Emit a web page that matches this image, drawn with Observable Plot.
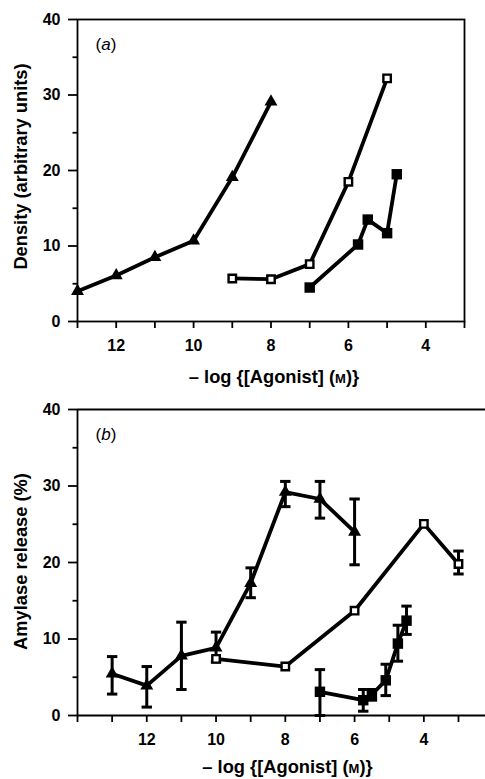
<!DOCTYPE html>
<html><head><meta charset="utf-8">
<script src="https://cdn.jsdelivr.net/npm/d3@7"></script>
<script src="https://cdn.jsdelivr.net/npm/@observablehq/plot@0.6"></script>
<style>body{margin:0;background:#fff;} svg{display:block}</style>
</head><body><div id="fig"></div>
<script>
// ---- text ----
const xTitle = "– log {[Agonist] (M)}";
const yTitleA = "Density (arbitrary units)";
const yTitleB = "Amylase release (%)";
const panelLabelA = "(a)";
const panelLabelB = "(b)";

// ---- ticks ----
const yMajor = [0, 10, 20, 30, 40];
const yMinor = [5, 15, 25, 35];
const xTicksA = [13, 12, 11, 10, 9, 8, 7, 6, 5, 4, 3];
const xTicksB = [14, 13, 12, 11, 10, 9, 8, 7, 6, 5, 4, 3];
const xLabelled = [12, 10, 8, 6, 4];

// ---- panel (a): density ----
const triA_x = [13, 12, 11, 10, 9, 8];
const triA_y = [4.0, 6.1, 8.5, 10.7, 19.1, 29.1];
const openA_x = [9, 8, 7, 6, 5];
const openA_y = [5.7, 5.6, 7.6, 18.5, 32.2];
const fillA_x = [7, 5.75, 5.5, 5, 4.75];
const fillA_y = [4.5, 10.2, 13.5, 11.7, 19.5];

// ---- panel (b): amylase release ----
const triB_x = [13, 12, 11, 10, 9, 8, 7, 6];
const triB_y = [5.45, 3.9, 7.8, 8.85, 17.3, 29.2, 28.3, 24.0];
const triB_lo = [2.8, 1.1, 3.4, 7.0, 15.4, 27.3, 25.8, 19.7];
const triB_hi = [7.7, 6.4, 12.2, 10.9, 19.3, 30.6, 30.6, 28.3];
const openB_x = [10, 8, 6, 4, 3];
const openB_y = [7.4, 6.4, 13.7, 25.05, 19.8];
const openB_lo = [null, null, null, null, 18.5];
const openB_hi = [null, null, null, null, 21.5];
const fillB_x = [7, 5.75, 5.5, 5.1, 4.75, 4.5];
const fillB_y = [3.1, 2.0, 2.75, 4.6, 9.4, 12.4];
const fillB_lo = [0, 0.56, 2.0, 2.6, 7.1, 10.6];
const fillB_hi = [6.0, 3.4, 3.4, 6.7, 11.8, 14.3];

const zip = (xs, ys, lo, hi) => xs.map((x, i) => ({x, y: ys[i], lo: lo ? lo[i] : null, hi: hi ? hi[i] : null}));
const triA = zip(triA_x, triA_y), openA = zip(openA_x, openA_y), fillA = zip(fillA_x, fillA_y);
const triB = zip(triB_x, triB_y, triB_lo, triB_hi);
const openB = zip(openB_x, openB_y, openB_lo, openB_hi);
const fillB = zip(fillB_x, fillB_y, fillB_lo, fillB_hi);

const capSymbol = {draw(ctx, size) { const r = Math.sqrt(size / Math.PI); ctx.moveTo(-r, 0); ctx.lineTo(r, 0); }};
const style = {fontFamily: "'Liberation Sans', Arial, Helvetica, sans-serif", fontSize: "16px", color: "black", background: "white", overflow: "visible"};
const LW = 3.8;
const TITLE = 18.3;

function axes(xTicks) {
  return [
    Plot.axisY({ticks: yMajor, tickSize: 9, tickPadding: 8, label: null, fontWeight: "bold", strokeWidth: 1.8}),
    Plot.axisY({ticks: yMinor, tickSize: 4.5, tickFormat: () => "", label: null, strokeWidth: 1.8}),
    Plot.axisX({ticks: xTicks, tickSize: 7, tickPadding: 11, label: null, fontWeight: "bold", strokeWidth: 1.8,
      tickFormat: d => xLabelled.includes(d) ? String(d) : ""})
  ];
}
function errorBars(data) {
  const d = data.filter(e => e.lo != null);
  return [
    Plot.ruleX(d, {x: "x", y1: "lo", y2: "hi", strokeWidth: 3}),
    Plot.dot(d, {x: "x", y: "lo", symbol: capSymbol, r: 5.2, stroke: "black", strokeWidth: 3}),
    Plot.dot(d, {x: "x", y: "hi", symbol: capSymbol, r: 5.2, stroke: "black", strokeWidth: 3})
  ];
}
function titles(yTitle, label, yDy, xDx, xDy) {
  return [
    Plot.text([yTitle], {text: d => d, frameAnchor: "left", dx: -56, dy: yDy, rotate: -90, textAnchor: "middle", lineAnchor: "middle", fontSize: TITLE, fontWeight: "bold"}),
    Plot.text([xTitle], {text: d => d, frameAnchor: "bottom", dy: xDy, dx: xDx, textAnchor: "middle", lineAnchor: "middle", fontSize: TITLE, fontWeight: "bold"}),
    Plot.text([label], {text: d => d, frameAnchor: "top-left", dx: 18, dy: 25, textAnchor: "start", lineAnchor: "middle", fontSize: 17})
  ];
}
function series(tri, open, fill) {
  return [
    Plot.line(tri, {x: "x", y: "y", strokeWidth: LW}),
    Plot.line(open, {x: "x", y: "y", strokeWidth: LW}),
    Plot.line(fill, {x: "x", y: "y", strokeWidth: LW})
  ];
}
function points(tri, open, fill) {
  return [
    Plot.dot(tri, {x: "x", y: "y", symbol: "triangle", r: 4.8, fill: "black"}),
    Plot.dot(open, {x: "x", y: "y", symbol: "square", r: 4.2, fill: "white", stroke: "black", strokeWidth: 2.4}),
    Plot.dot(fill, {x: "x", y: "y", symbol: "square", r: 5.9, fill: "black"})
  ];
}

const plotA = Plot.plot({
  width: 485, height: 390, marginTop: 19, marginBottom: 69, marginLeft: 77, marginRight: 21,
  x: {domain: [13, 3]}, y: {domain: [0, 40]}, style,
  marks: [
    Plot.frame({strokeWidth: 1.8}),
    ...axes(xTicksA),
    ...series(triA, openA, fillA),
    ...points(triA, openA, fillA),
    ...titles(yTitleA, panelLabelA, -4, 3, 56)
  ]
});

const plotB = Plot.plot({
  width: 485, height: 389, marginTop: 19, marginBottom: 64, marginLeft: 77, marginRight: 0,
  x: {domain: [14, 2.22]}, y: {domain: [0, 40]}, style,
  marks: [
    Plot.ruleY([0, 40], {strokeWidth: 1.8}),
    Plot.ruleX([14], {strokeWidth: 1.8}),
    ...axes(xTicksB),
    ...series(triB, openB, fillB),
    ...errorBars(triB), ...errorBars(openB), ...errorBars(fillB),
    ...points(triB, openB, fillB),
    ...titles(yTitleB, panelLabelB, -1, 6, 52)
  ]
});

function patch(svg) {
  d3.select(svg).selectAll("text").each(function() {
    const t = this.textContent, s = d3.select(this);
    if (t === xTitle) {
      s.text(null);
      s.append("tspan").text("– log {[Agonist] (");
      s.append("tspan").attr("font-size", 13).text("M");
      s.append("tspan").text(")}");
    } else if (t === panelLabelA || t === panelLabelB) {
      s.text(null);
      s.append("tspan").text("(");
      s.append("tspan").attr("font-style", "italic").text(t.slice(1, 2));
      s.append("tspan").text(")");
    }
  });
  return svg;
}
document.getElementById("fig").append(patch(plotA), patch(plotB));
</script>
</body></html>
